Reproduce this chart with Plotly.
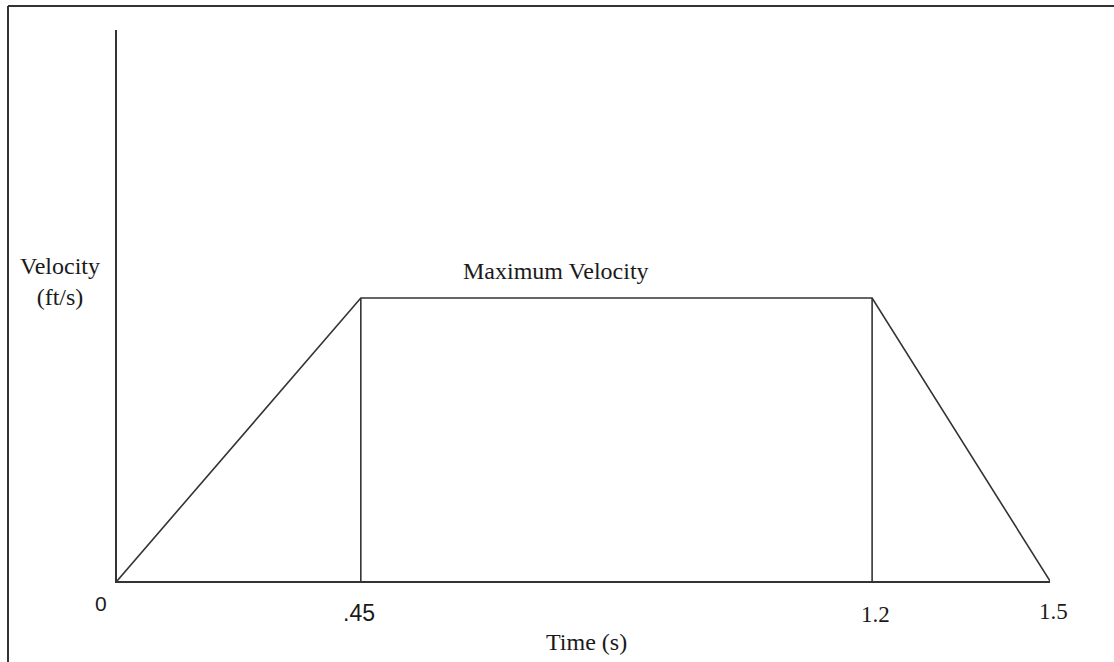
import plotly.graph_objects as go

# Schematic velocity profile (drawing is not to scale; positions)
time_pos = [0.0, 0.392, 1.214, 1.5]          # horizontal positions as drawn
tick_labels = ["0", ".45", "1.2", "1.5"]      # labels written under the axis
velocity = [0.0, 1.0, 1.0, 0.0]              # relative velocity (max = 1)
plateau_label = "Maximum Velocity"
x_title = "Time (s)"
y_title = "Velocity<br>(ft/s)"

LINE = "#333333"
TXT = "#1a1a1a"
SERIF = "Liberation Serif, Times New Roman, serif"
SANS = "Liberation Sans, Arial, sans-serif"

fig = go.Figure()
fig.add_trace(go.Scatter(x=time_pos, y=velocity, mode="lines",
                         line=dict(color=LINE, width=1.6), hoverinfo="skip"))
fig.add_trace(go.Scatter(x=[time_pos[1], time_pos[1], None, time_pos[2], time_pos[2]],
                         y=[velocity[0], velocity[1], None, velocity[3], velocity[2]],
                         mode="lines", line=dict(color=LINE, width=1.6), hoverinfo="skip"))

# label positions / offsets (style only)
label_fonts = [SANS, SANS, SERIF, SERIF]
label_sizes = [21, 23, 23, 23]
label_dx = [-16, -2, 3, 3]
label_dy = [-22, -32, -33, -30]
annotations = []
for t, lab, f, s, dx, dy in zip(time_pos, tick_labels, label_fonts, label_sizes, label_dx, label_dy):
    annotations.append(dict(x=t, y=0, xref="x", yref="y", text=lab, showarrow=False,
                            xanchor="center", yanchor="middle",
                            xshift=dx, yshift=dy, font=dict(family=f, size=s, color=TXT)))

annotations.append(dict(x=(time_pos[1] + time_pos[2]) / 2, y=velocity[1], xref="x", yref="y",
                        text=plateau_label, showarrow=False, xanchor="center", yanchor="middle",
                        yshift=27, xshift=-60, font=dict(family=SERIF, size=24, color=TXT)))
annotations.append(dict(x=(586 - 117) / 933, y=(581 - 642) / 551, xref="paper", yref="paper",
                        text=x_title, showarrow=False, xanchor="center", yanchor="middle",
                        font=dict(family=SERIF, size=24, color=TXT)))
annotations.append(dict(x=(60 - 117) / 933, y=(581 - 281) / 551, xref="paper", yref="paper",
                        text=y_title, showarrow=False, align="center",
                        xanchor="center", yanchor="middle",
                        font=dict(family=SERIF, size=24, color=TXT)))

# image border (top and left only)
xl = (8 - 117) / 933
yt = (581 - 6) / 551
shapes = [
    dict(type="line", xref="paper", yref="paper", x0=xl, x1=1.2, y0=yt, y1=yt,
         line=dict(color=LINE, width=2)),
    dict(type="line", xref="paper", yref="paper", x0=xl, x1=xl, y0=yt, y1=-0.3,
         line=dict(color=LINE, width=2)),
]

fig.update_layout(
    width=1114, height=662,
    margin=dict(l=117, r=64, t=30, b=81),
    paper_bgcolor="white", plot_bgcolor="white",
    showlegend=False,
    annotations=annotations, shapes=shapes,
    xaxis=dict(range=[0, 1.5], showline=True, linecolor=LINE, linewidth=2,
               showgrid=False, zeroline=False, showticklabels=False, ticks="",
               fixedrange=True),
    yaxis=dict(range=[0, 1.947], showline=True, linecolor=LINE, linewidth=2,
               showgrid=False, zeroline=False, showticklabels=False, ticks="",
               fixedrange=True),
)
fig.write_html("out.html", config={"displayModeBar": False},
               post_script="document.body.style.margin='0';document.body.style.overflow='hidden';")
